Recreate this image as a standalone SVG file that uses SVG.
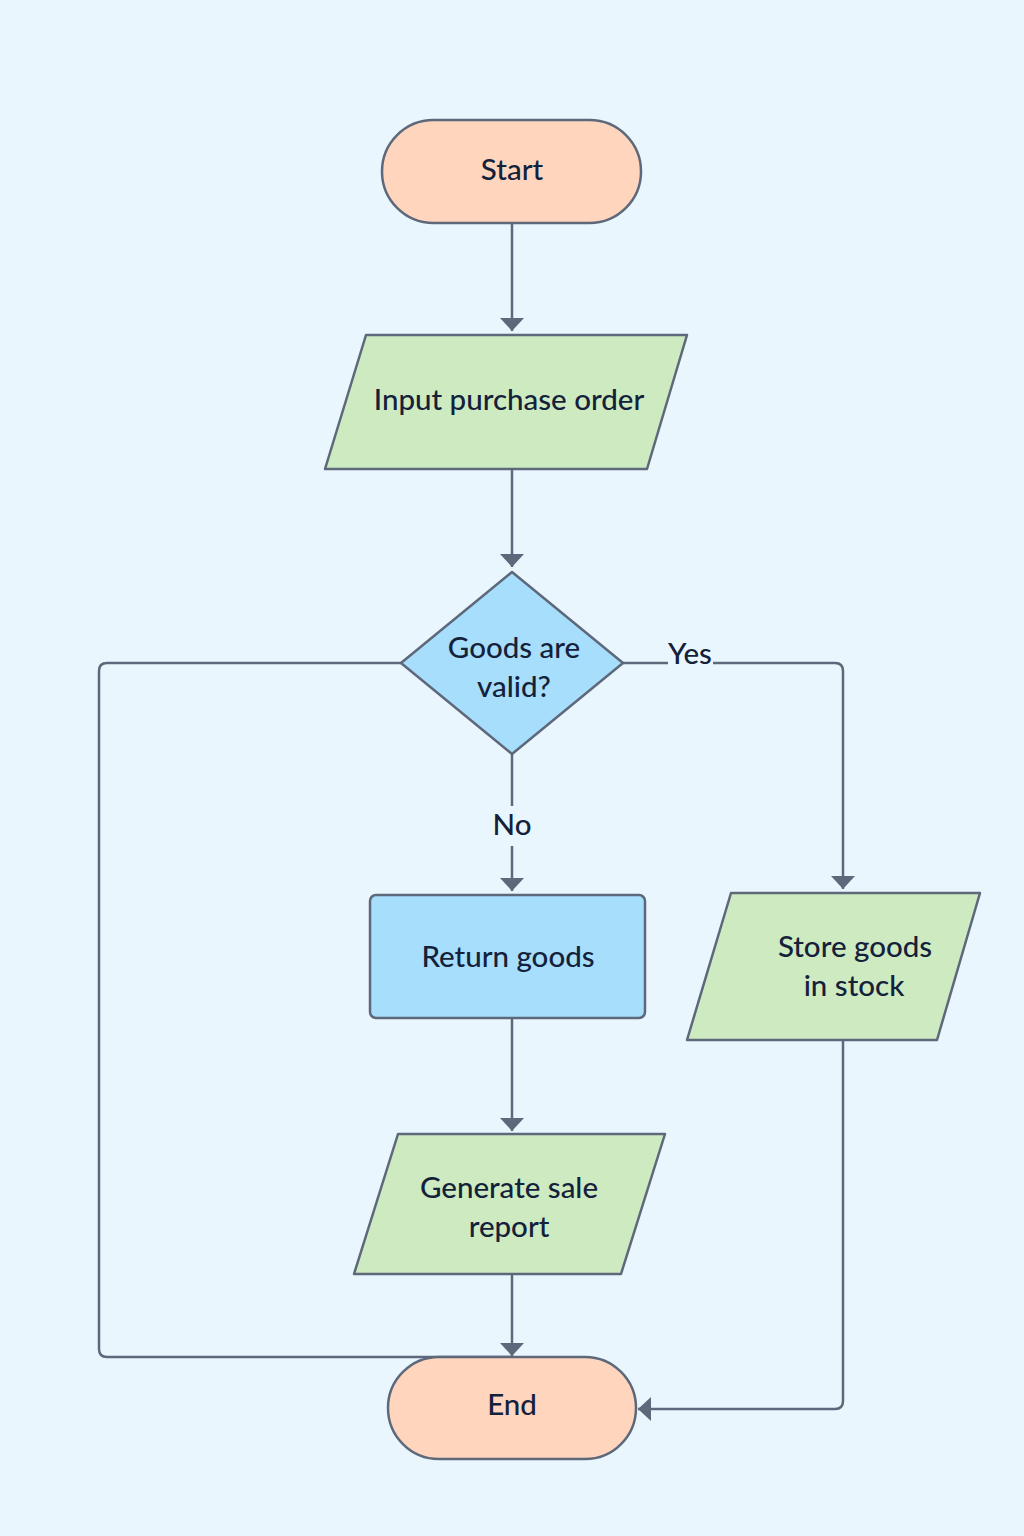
<svg xmlns="http://www.w3.org/2000/svg" width="1024" height="1536" viewBox="0 0 1024 1536">
  <defs>
    <style>
      .node { stroke: #5D687B; stroke-width: 2.5; stroke-linejoin: round; }
      .term { fill: #FFD5BE; }
      .io { fill: #CEEAC1; }
      .proc { fill: #A7DEFC; }
      .lbl { font-family: Lato, "Open Sans", "Noto Sans", sans-serif; font-size: 29.5px; font-weight: 500; fill: #14213A; text-anchor: middle; }
      .edge { fill: none; stroke: #5D687B; stroke-width: 2.5; stroke-linejoin: round; }
    </style>
    <marker id="arrow" markerUnits="userSpaceOnUse" markerWidth="26" markerHeight="26" viewBox="0 0 26 26" refX="13" refY="13" orient="auto">
      <path d="M0,1 L13,13 L0,25 Z" fill="#5D687B"/>
    </marker>
  </defs>
  <rect x="0" y="0" width="1024" height="1536" fill="#EAF6FD"/>

  <g id="connectors">
    <path class="edge" d="M512,223 L512,331" marker-end="url(#arrow)"/>
    <path class="edge" d="M512,469 L512,567" marker-end="url(#arrow)"/>
    <path class="edge" d="M623,663 L668,663 M713,663 L835,663 Q843,663 843,671 L843,889" marker-end="url(#arrow)"/>
    <path class="edge" d="M401,663 L107,663 Q99,663 99,671 L99,1349 Q99,1357 107,1357 L512,1357"/>
    <path class="edge" d="M512,754 L512,806 M512,846 L512,891" marker-end="url(#arrow)"/>
    <path class="edge" d="M512,1018 L512,1131" marker-end="url(#arrow)"/>
    <path class="edge" d="M512,1274 L512,1356" marker-end="url(#arrow)"/>
    <path class="edge" d="M843,1040 L843,1401 Q843,1409 835,1409 L638,1409" marker-end="url(#arrow)"/>
    <text class="lbl" x="690" y="664">Yes</text>
    <text class="lbl" x="512" y="835">No</text>
  </g>

  <g id="start">
    <rect class="node term" x="382" y="120" width="259" height="103" rx="51.5"/>
    <text class="lbl" x="512" y="180">Start</text>
  </g>
  <g id="input">
    <path class="node io" d="M366,335 L687,335 L647,469 L325,469 Z"/>
    <text class="lbl" x="509" y="410">Input purchase order</text>
  </g>
  <g id="decision">
    <path class="node proc" d="M512,572 L623,663 L512,754 L401,663 Z"/>
    <text class="lbl" x="514" y="658">Goods are</text>
    <text class="lbl" x="514" y="697">valid?</text>
  </g>
  <g id="return">
    <rect class="node proc" x="370" y="895" width="275" height="123" rx="6"/>
    <text class="lbl" x="508" y="967">Return goods</text>
  </g>
  <g id="report">
    <path class="node io" d="M398,1134 L665,1134 L621,1274 L354,1274 Z"/>
    <text class="lbl" x="509" y="1198">Generate sale</text>
    <text class="lbl" x="509" y="1237">report</text>
  </g>
  <g id="store">
    <path class="node io" d="M731,893 L980,893 L937,1040 L687,1040 Z"/>
    <text class="lbl" x="855" y="957">Store goods</text>
    <text class="lbl" x="854" y="996">in stock</text>
  </g>
  <g id="end">
    <rect class="node term" x="388" y="1357" width="248" height="102" rx="51"/>
    <text class="lbl" x="512" y="1415">End</text>
  </g>
</svg>
